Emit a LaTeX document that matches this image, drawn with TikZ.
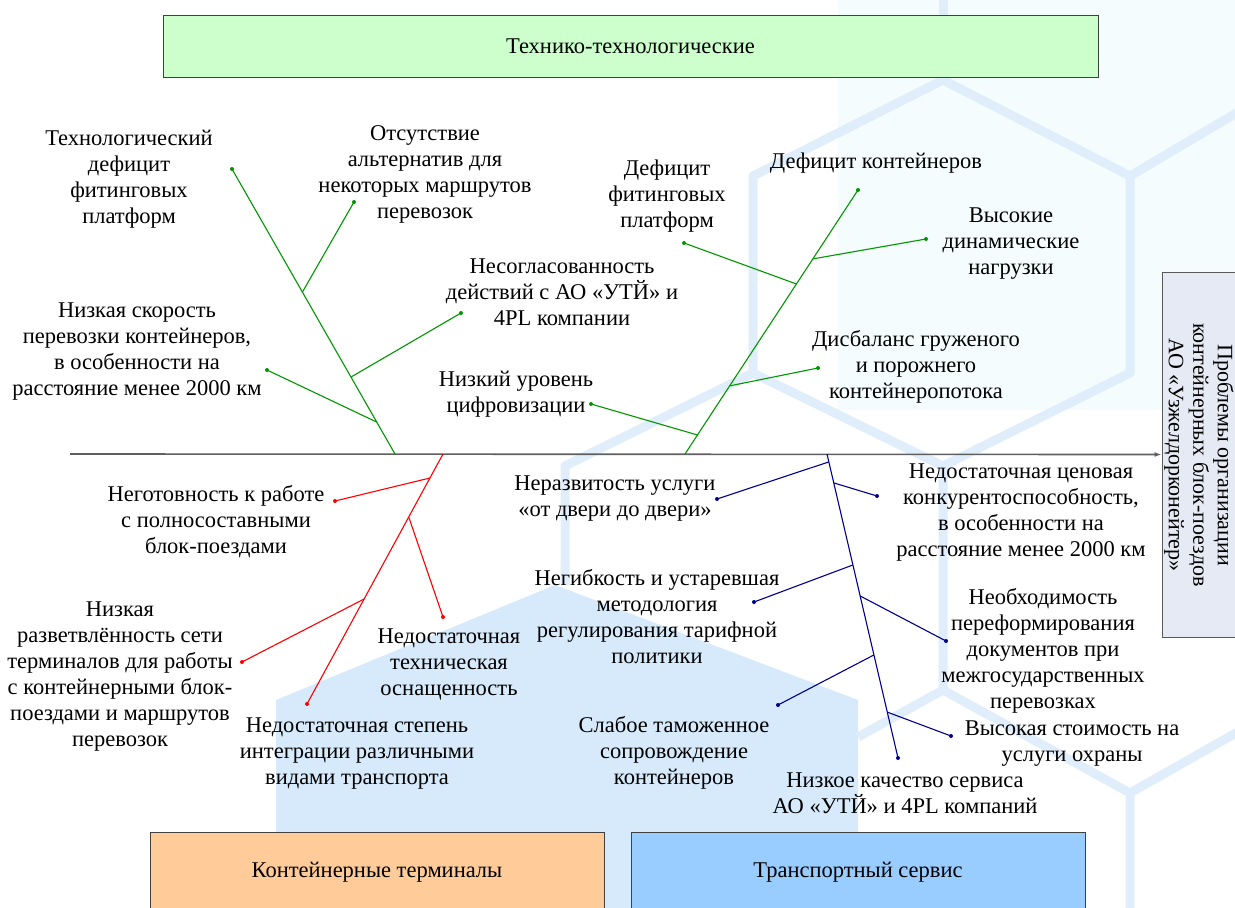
\documentclass[tikz,border=0pt]{standalone}
\usepackage{fontspec}
\setmainfont{Liberation Serif}
\usetikzlibrary{arrows.meta,calc}
\definecolor{gbone}{RGB}{0,150,0}
\definecolor{rbone}{RGB}{255,0,0}
\definecolor{bbone}{RGB}{0,0,140}
\definecolor{spinec}{RGB}{95,95,95}
\definecolor{hexline}{RGB}{224,237,250}
\definecolor{hexfill}{RGB}{214,234,251}
\definecolor{cyanbg}{RGB}{244,252,254}
\definecolor{boxgreen}{RGB}{204,255,204}
\definecolor{boxorange}{RGB}{255,204,153}
\definecolor{boxblue}{RGB}{153,204,255}
\definecolor{boxgray}{RGB}{230,234,244}
\begin{document}
\begin{tikzpicture}[x=1pt,y=-1pt,
  lbl/.style={align=center,inner sep=0pt,font=\fontsize{22.5}{26}\selectfont},
  catbox/.style={draw=black!75,line width=0.9pt,inner sep=0pt},
  gl/.style={draw=gbone,line width=1.1pt},
  rl/.style={draw=rbone,line width=1.1pt},
  bl/.style={draw=bbone,line width=1.1pt},
  hexl/.style={draw=hexline,line width=9pt,line join=round}]
\path[use as bounding box] (0,0) rectangle (1235,908);
% background
\begin{scope}
\clip (0,0) rectangle (1235,908);
\fill[cyanbg] (838,0) rectangle (1235,410);
\fill[hexfill] (555,585) -- (858,700) -- (858,920) -- (276,920) -- (276,700) -- cycle;
\draw[hexl] (943,80) -- (1130,176) -- (1130,373) -- (943,466) -- (753,373) -- (753,176) -- cycle;
\draw[hexl] (943,80) -- (943,-10);
\draw[hexl] (1130,176) -- (1250,105);
\draw[hexl] (565,585) -- (565,466) -- (753,373);
\draw[hexl] (943,466) -- (943,690) -- (1130,793) -- (1130,920);
\draw[hexl] (943,690) -- (858,737);
\draw[hexl] (1130,793) -- (1250,725);
\end{scope}
% category boxes
\node[catbox,fill=boxgreen,minimum width=935pt,minimum height=62pt,lbl] (cat1) at (630.5,46) {Технико-технологические};
\node[catbox,fill=boxorange,minimum width=454pt,minimum height=90pt] (cat2) at (377,877) {};
\node[lbl] (cat2t) at (377,872) {Контейнерные терминалы};
\node[catbox,fill=boxblue,minimum width=454pt,minimum height=90pt] (cat3) at (858,877) {};
\node[lbl] (cat3t) at (858,872) {Транспортный сервис};
\node[catbox,draw=black!65,fill=boxgray,minimum width=100pt,minimum height=365pt] (res) at (1212,454.5) {};
\node[align=center,inner sep=0pt,font=\fontsize{22}{24.5}\selectfont,rotate=-90] (rest) at (1199,455) {Проблемы организации\\контейнерных блок-поездов\\АО «Узжелдорконейтер»};
% spine
\coordinate (s0) at (70,454);
\draw[draw=spinec,line width=1.6pt,-{Latex[length=7pt,width=5pt]}] (s0) -- (res.west);
% ---------- green bone 1
\coordinate (g1t) at (232,169);
\coordinate (g1b) at (395,454);
\coordinate (g1j1) at ($(g1t)!0.432!(g1b)$);
\coordinate (g1j2) at ($(g1t)!0.730!(g1b)$);
\coordinate (g1j3) at ($(g1t)!0.888!(g1b)$);
\coordinate (g1d1) at (354,202);
\coordinate (g1d2) at (461,313);
\coordinate (g1d3) at (267,370);
\draw[gl] (g1t) -- (g1b);
\draw[gl] (g1j1) -- (g1d1);
\draw[gl] (g1j2) -- (g1d2);
\draw[gl] (g1j3) -- (g1d3);
% ---------- green bone 2
\coordinate (g2t) at (858,190);
\coordinate (g2b) at (685,454);
\coordinate (g2j1) at ($(g2t)!0.261!(g2b)$);
\coordinate (g2j2) at ($(g2t)!0.356!(g2b)$);
\coordinate (g2j3) at ($(g2t)!0.742!(g2b)$);
\coordinate (g2j4) at ($(g2t)!0.928!(g2b)$);
\coordinate (g2d1) at (926,239);
\coordinate (g2d2) at (684,243);
\coordinate (g2d3) at (818,368);
\coordinate (g2d4) at (591,404);
\draw[gl] (g2t) -- (g2b);
\draw[gl] (g2j1) -- (g2d1);
\draw[gl] (g2j2) -- (g2d2);
\draw[gl] (g2j3) -- (g2d3);
\draw[gl] (g2j4) -- (g2d4);
\foreach \p in {g1t,g1d1,g1d2,g1d3,g2t,g2d1,g2d2,g2d3,g2d4} \fill[gbone] (\p) circle (2pt);
% ---------- red bone
\coordinate (r1t) at (443,454);
\coordinate (r1b) at (307,704);
\coordinate (r1j1) at ($(r1t)!0.096!(r1b)$);
\coordinate (r1j2) at ($(r1t)!0.252!(r1b)$);
\coordinate (r1j3) at ($(r1t)!0.58!(r1b)$);
\coordinate (r1d1) at (335,501);
\coordinate (r1d2) at (443,617);
\coordinate (r1d3) at (242,662);
\draw[rl] (r1t) -- (r1b);
\draw[rl] (r1j1) -- (r1d1);
\draw[rl] (r1j2) -- (r1d2);
\draw[rl] (r1j3) -- (r1d3);
\foreach \p in {r1b,r1d1,r1d2,r1d3} \fill[rbone] (\p) circle (2pt);
% ---------- blue bone
\coordinate (b1t) at (827,454);
\coordinate (b1b) at (898,758);
\coordinate (b1j1) at ($(b1t)!0.026!(b1b)$);
\coordinate (b1j2) at ($(b1t)!0.095!(b1b)$);
\coordinate (b1j3) at ($(b1t)!0.365!(b1b)$);
\coordinate (b1j4) at ($(b1t)!0.467!(b1b)$);
\coordinate (b1j5) at ($(b1t)!0.661!(b1b)$);
\coordinate (b1j6) at ($(b1t)!0.849!(b1b)$);
\coordinate (b1d1) at (717,499);
\coordinate (b1d2) at (877,496);
\coordinate (b1d3) at (754,602);
\coordinate (b1d4) at (946,641);
\coordinate (b1d5) at (778,705);
\coordinate (b1d6) at (951,736);
\draw[bl] (b1t) -- (b1b);
\draw[bl] (b1j1) -- (b1d1);
\draw[bl] (b1j2) -- (b1d2);
\draw[bl] (b1j3) -- (b1d3);
\draw[bl] (b1j4) -- (b1d4);
\draw[bl] (b1j5) -- (b1d5);
\draw[bl] (b1j6) -- (b1d6);
\foreach \p in {b1b,b1d1,b1d2,b1d3,b1d4,b1d5,b1d6} \fill[bbone] (\p) circle (2pt);
% ---------- labels
\node[lbl] (t1) at (129,179) {Технологический\\дефицит\\фитинговых\\платформ};
\node[lbl] (t2) at (425,174) {Отсутствие\\альтернатив для\\некоторых маршрутов\\перевозок};
\node[lbl] (t3) at (562,292) {Несогласованность\\действий с АО «УТЙ» и\\4PL компании};
\node[lbl] (t4) at (137,352) {Низкая скорость\\перевозки контейнеров,\\в особенности на\\расстояние менее 2000 км};
\node[lbl] (t5) at (516,394) {Низкий уровень\\цифровизации};
\node[lbl] (t6) at (667,196) {Дефицит\\фитинговых\\платформ};
\node[lbl] (t7) at (876,163) {Дефицит контейнеров};
\node[lbl] (t8) at (1011,244) {Высокие\\динамические\\нагрузки};
\node[lbl] (t9) at (916,367) {Дисбаланс груженого\\и порожнего\\контейнеропотока};
\node[lbl] (t10) at (216,522) {Неготовность к работе\\с полносоставными\\блок-поездами};
\node[lbl] (t11) at (120,677) {Низкая\\разветвлённость сети\\терминалов для работы\\с контейнерными блок-\\поездами и маршрутов\\перевозок};
\node[lbl] (t12) at (449,664) {Недостаточная\\техническая\\оснащенность};
\node[lbl] (t13) at (357,754) {Недостаточная степень\\интеграции различными\\видами транспорта};
\node[lbl] (t14) at (615,499) {Неразвитость услуги\\«от двери до двери»};
\node[lbl] (t15) at (1021,513) {Недостаточная ценовая\\конкурентоспособность,\\в особенности на\\расстояние менее 2000 км};
\node[lbl] (t16) at (657,617) {Негибкость и устаревшая\\методология\\регулирования тарифной\\политики};
\node[lbl] (t17) at (1043,651) {Необходимость\\переформирования\\документов при\\межгосударственных\\перевозках};
\node[lbl] (t18) at (674,753) {Слабое таможенное\\сопровождение\\контейнеров};
\node[lbl] (t19) at (1072,744) {Высокая стоимость на\\услуги охраны};
\node[lbl] (t20) at (905,793) {Низкое качество сервиса\\АО «УТЙ» и 4PL компаний};
\end{tikzpicture}
\end{document}
